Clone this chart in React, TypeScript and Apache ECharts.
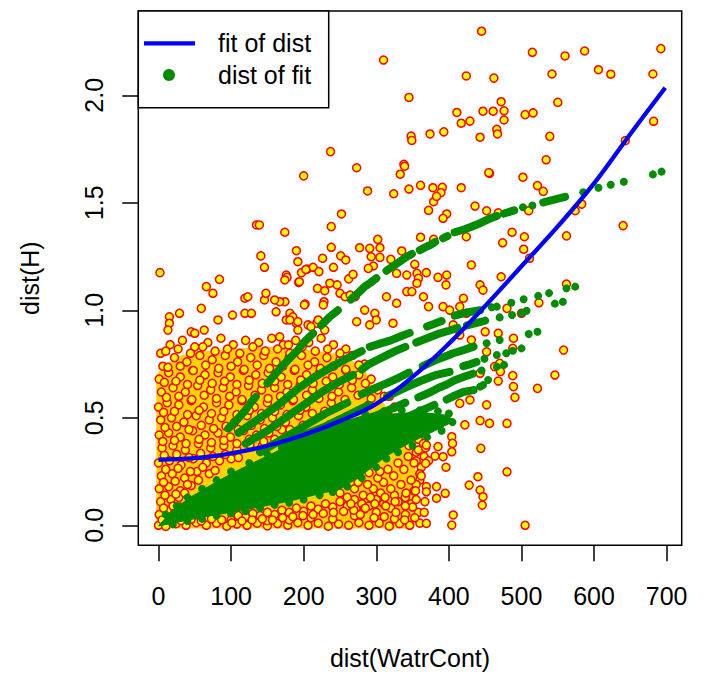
import React, { useEffect, useRef } from "react";
import * as echarts from "echarts";

const X_TICKS = [0, 100, 200, 300, 400, 500, 600, 700];
const Y_TICKS = [0, 0.5, 1, 1.5, 2];

const FIT_X = [0, 50, 100, 150, 200, 250, 300, 350, 400, 450, 500, 550, 600, 650, 698];
const FIT_Y = [0.305, 0.312, 0.335, 0.37, 0.42, 0.485, 0.565, 0.69, 0.845, 1.02, 1.205, 1.39, 1.59, 1.82, 2.035];

// dense, fully covered area of the yellow cloud
const YELLOW_DENSE_AREA = [
  [-3, -0.015], [-3, 0.7], [10, 0.75], [30, 0.79], [60, 0.81], [100, 0.82], [150, 0.83], [200, 0.82],
  [240, 0.8], [265, 0.77], [285, 0.72], [300, 0.62], [320, 0.52], [340, 0.42], [352, 0.32], [356, 0.2],
  [356, 0.06], [352, -0.015],
];

// dense, fully covered area of the green wedge
const GREEN_DENSE_AREA = [
  [0, 0.0], [20, 0.075], [45, 0.135], [80, 0.205], [110, 0.26], [150, 0.325], [180, 0.375], [222, 0.445],
  [260, 0.49], [300, 0.515], [340, 0.525], [370, 0.525], [395, 0.515], [405, 0.495], [400, 0.47],
  [370, 0.42], [340, 0.37], [314, 0.32], [280, 0.23], [250, 0.165], [222, 0.145], [180, 0.11],
  [120, 0.07], [60, 0.035], [0, -0.005],
];

const YELLOW_SPARSE = [
  [445, 2.298], [515, 2.2], [560, 2.183], [587, 2.206], [692, 2.217], [542, 2.099], [606, 2.119], [623, 2.098],
  [681, 2.099], [447, 1.926], [461, 1.926], [472, 1.97], [476, 1.928], [476, 1.885], [466, 1.842], [505, 1.91],
  [516, 1.918], [550, 1.967], [539, 1.809], [682, 1.879], [643, 1.789], [534, 1.7], [456, 1.637], [502, 1.619],
  [522, 1.58], [530, 1.553], [583, 1.494], [574, 1.463], [452, 1.463], [468, 1.453], [510, 1.463], [443, 1.805],
  [640, 1.394], [487, 1.363], [504, 1.342], [562, 1.346], [474, 1.314], [503, 1.284], [511, 1.242], [472, 1.156],
  [562, 1.122], [443, 1.118], [447, 1.094], [480, 1.009], [524, 1.035], [500, 0.986], [468, 0.893], [489, 0.87],
  [452, 0.807], [558, 0.815], [463, 0.738], [470, 0.753], [471, 0.715], [443, 0.707], [488, 0.696], [546, 0.699],
  [468, 0.671], [489, 0.645], [522, 0.637], [491, 0.595], [488, 0.823], [452, 0.56], [415, 0.567], [429, 0.583],
  [422, 0.467], [443, 0.487], [456, 0.474], [480, 0.474], [444, 0.358], [404, 0.412], [405, 0.381], [404, 0.342],
  [385, 0.366], [381, 0.322], [392, 0.319], [396, 0.27], [369, 0.373], [368, 0.288], [480, 0.249], [440, 0.226],
  [428, 0.187], [443, 0.164], [447, 0.133], [446, 0.094], [406, 0.048], [369, 0.009], [404, 0.001], [383, 0.18],
  [395, 0.149], [369, 0.156], [383, 0.126], [367, 0.11], [505, 0.0],
  [237, 1.738], [273, 1.663], [338, 1.679], [333, 1.633], [200, 1.625], [455, 1.64], [288, 1.555], [324, 1.542],
  [345, 1.564], [361, 1.581], [391, 1.572], [389, 1.547], [417, 1.57], [379, 1.505], [372, 1.465], [397, 1.448],
  [392, 1.428], [436, 1.485], [252, 1.448], [174, 1.363], [238, 1.389], [361, 1.34], [379, 1.33], [424, 1.342],
  [238, 1.293], [190, 1.277], [226, 1.242], [251, 1.253], [258, 1.234], [277, 1.291], [291, 1.288], [305, 1.291],
  [302, 1.33], [293, 1.249], [305, 1.246], [296, 1.206], [320, 1.237], [335, 1.276], [353, 1.214], [192, 1.226],
  [176, 1.164], [177, 1.153], [193, 1.13], [205, 1.192], [213, 1.2], [221, 1.18], [241, 1.2], [262, 1.146],
  [268, 1.167], [219, 1.102], [229, 1.091], [228, 1.04], [227, 1.025], [246, 1.118], [250, 1.079], [257, 1.063],
  [264, 1.071], [271, 1.063], [202, 1.029], [174, 1.04], [289, 1.195], [328, 1.172], [342, 1.164], [356, 1.172],
  [369, 1.175], [358, 1.149], [356, 1.126], [385, 1.153], [397, 1.164], [396, 1.118], [431, 1.211], [420, 1.056],
  [284, 1.001], [298, 0.986], [314, 1.063], [328, 1.033], [342, 1.087], [349, 1.087], [365, 1.063], [372, 1.017],
  [392, 1.017], [401, 1.001], [415, 1.017], [424, 0.986], [431, 0.862], [415, 0.885], [450, 0.9], [406, 0.932],
  [323, 0.94], [300, 0.955], [291, 0.932], [273, 0.947], [167, 1.04], [181, 0.986], [176, 0.955], [190, 0.94],
  [206, 0.932], [218, 0.94], [167, 0.877], [179, 0.839],
  [135, 1.397], [139, 1.397], [141, 1.253], [146, 1.2], [2, 1.175], [84, 1.144], [197, 1.175], [203, 1.19],
  [66, 1.11], [75, 1.079], [59, 1.009], [29, 0.986], [15, 0.97], [15, 0.94], [13, 0.908], [45, 0.9], [50, 0.893],
  [63, 0.908], [82, 0.955], [102, 0.978], [119, 0.986], [128, 0.986], [119, 1.056], [123, 1.063], [146, 1.048],
  [148, 1.079], [160, 1.048], [162, 0.993], [185, 0.97], [192, 0.947], [181, 0.955], [174, 1.141], [194, 1.133],
  [201, 1.025], [220, 0.955], [236, 1.126], [210, 0.924], [192, 0.908], [229, 0.908],
  [310, 2.164], [345, 1.99], [348, 1.81], [349, 1.79], [374, 1.82], [393, 1.83], [378, 1.57], [383, 1.53],
  [339, 1.67], [424, 2.09], [411, 1.92], [417, 1.87], [429, 1.88], [462, 2.08], [467, 1.82],
];

const YELLOW_CLOUD = [
  [3, 0.8], [16, 0.84], [33, 0.86], [50, 0.83], [68, 0.85], [86, 0.87], [103, 0.84], [120, 0.86], [138, 0.85],
  [156, 0.87], [172, 0.84], [189, 0.86], [207, 0.85], [224, 0.87], [241, 0.84], [258, 0.82],
  [6, 0.74], [22, 0.78], [39, 0.76], [57, 0.79], [74, 0.77], [92, 0.79], [109, 0.76], [127, 0.78], [145, 0.79],
  [162, 0.76], [180, 0.78], [197, 0.79], [215, 0.76], [232, 0.78], [250, 0.77], [267, 0.79], [284, 0.75],
  [1, 0.68], [14, 0.71], [30, 0.69], [47, 0.72], [64, 0.7], [82, 0.71], [99, 0.69], [117, 0.72], [134, 0.7],
  [151, 0.71], [169, 0.69], [187, 0.72], [204, 0.7], [222, 0.71], [240, 0.69], [258, 0.72], [276, 0.7], [293, 0.68],
  [4, 0.62], [20, 0.64], [37, 0.62], [54, 0.65], [72, 0.63], [89, 0.64], [107, 0.62], [124, 0.65], [142, 0.63],
  [160, 0.64], [177, 0.62], [195, 0.65], [212, 0.63], [248, 0.62], [266, 0.64], [302, 0.63], [318, 0.6],
  [0, 0.55], [12, 0.57], [28, 0.56], [45, 0.58], [62, 0.55], [80, 0.57], [97, 0.56], [115, 0.58], [132, 0.55],
  [150, 0.57], [168, 0.56], [185, 0.58], [203, 0.55], [238, 0.57], [290, 0.56], [325, 0.55],
  [3, 0.49], [18, 0.5], [35, 0.48], [52, 0.51], [70, 0.49], [87, 0.5], [105, 0.48], [122, 0.51], [140, 0.49],
  [157, 0.5], [175, 0.48], [193, 0.51], [333, 0.47],
  [1, 0.42], [14, 0.43], [30, 0.41], [47, 0.44], [64, 0.42], [82, 0.43], [99, 0.41], [117, 0.44], [135, 0.42],
  [152, 0.43], [170, 0.445], [345, 0.42], [358, 0.4],
  [5, 0.36], [20, 0.37], [37, 0.35], [55, 0.38], [72, 0.36], [90, 0.37], [108, 0.35], [126, 0.375], [143, 0.37],
  [355, 0.34],
  [0, 0.29], [15, 0.3], [31, 0.28], [48, 0.31], [66, 0.29], [84, 0.3], [100, 0.31], [362, 0.27],
  [4, 0.23], [19, 0.24], [36, 0.22], [53, 0.25], [70, 0.24], [360, 0.21],
  [1, 0.17], [14, 0.18], [30, 0.16], [45, 0.185], [352, 0.16],
  [3, 0.11], [17, 0.12], [28, 0.13], [300, 0.12], [325, 0.14], [348, 0.1],
  [1, 0.05], [12, 0.07], [100, 0.025], [120, 0.04], [140, 0.045], [160, 0.05], [180, 0.06], [200, 0.065],
  [220, 0.075], [240, 0.085], [260, 0.09], [280, 0.1], [300, 0.06], [320, 0.08], [340, 0.05], [358, 0.06],
  [0, 0.0], [10, -0.005], [24, 0.008], [38, 0.0], [52, 0.012], [66, 0.0], [80, 0.01], [94, -0.004], [108, 0.006],
  [122, 0.0], [136, 0.01], [150, -0.003], [164, 0.008], [178, 0.0], [192, 0.012], [206, 0.0], [220, 0.01],
  [234, -0.004], [248, 0.006], [262, 0.0], [276, 0.012], [290, 0.0], [304, 0.01], [318, -0.004], [332, 0.008],
  [346, 0.0], [360, 0.01], [240, 0.03], [270, 0.045], [210, 0.035], [180, 0.025], [150, 0.022],
];

const YELLOW_CLOUD_2 = [
  [10, 0.81], [27, 0.82], [44, 0.8], [61, 0.83], [78, 0.81], [95, 0.82], [112, 0.8], [130, 0.83], [147, 0.81],
  [164, 0.82], [181, 0.8], [198, 0.83], [216, 0.81], [233, 0.82], [250, 0.8],
  [13, 0.735], [30, 0.74], [48, 0.72], [65, 0.745], [83, 0.73], [100, 0.74], [118, 0.725], [136, 0.745],
  [153, 0.73], [171, 0.74], [188, 0.725], [206, 0.745], [223, 0.73], [241, 0.74], [258, 0.725], [276, 0.745],
  [8, 0.665], [24, 0.67], [40, 0.655], [57, 0.675], [74, 0.66], [91, 0.67], [108, 0.655], [125, 0.675],
  [143, 0.66], [160, 0.67], [178, 0.655], [196, 0.675], [213, 0.66], [231, 0.67], [249, 0.655], [267, 0.675],
  [285, 0.66],
  [11, 0.595], [28, 0.6], [46, 0.585], [63, 0.605], [80, 0.59], [98, 0.6], [115, 0.585], [133, 0.605],
  [151, 0.59], [168, 0.6], [186, 0.585], [204, 0.605], [221, 0.59], [239, 0.6], [257, 0.585], [275, 0.605],
  [293, 0.59], [311, 0.6],
  [7, 0.525], [22, 0.53], [40, 0.515], [56, 0.535], [73, 0.52], [90, 0.53], [108, 0.515], [125, 0.535],
  [142, 0.52], [160, 0.53], [177, 0.515], [195, 0.535], [212, 0.52], [229, 0.53], [300, 0.49], [320, 0.5],
  [9, 0.455], [25, 0.46], [42, 0.445], [59, 0.465], [76, 0.45], [93, 0.46], [110, 0.445], [128, 0.465],
  [146, 0.45], [163, 0.46], [181, 0.445], [199, 0.465], [330, 0.44], [350, 0.45],
  [6, 0.39], [22, 0.395], [38, 0.38], [56, 0.4], [73, 0.385], [90, 0.395], [108, 0.38], [125, 0.4],
  [145, 0.39], [160, 0.4], [345, 0.37], [365, 0.38],
  [8, 0.325], [25, 0.33], [42, 0.315], [58, 0.335], [75, 0.32], [92, 0.33], [110, 0.315], [355, 0.3],
  [10, 0.26], [27, 0.265], [44, 0.25], [61, 0.27], [78, 0.255], [360, 0.24],
  [7, 0.2], [23, 0.205], [40, 0.19], [55, 0.21], [355, 0.19],
  [9, 0.14], [24, 0.145], [36, 0.15], [340, 0.13],
  [7, 0.08], [20, 0.09], [30, 0.085], [110, 0.045], [130, 0.055], [150, 0.06], [170, 0.07], [190, 0.08],
  [210, 0.09], [230, 0.1], [250, 0.11], [270, 0.12], [290, 0.09], [310, 0.1], [330, 0.11], [350, 0.085],
  [5, 0.025], [17, 0.03], [31, 0.022], [45, 0.028], [59, 0.02], [73, 0.03], [87, 0.025], [101, 0.012],
  [115, 0.02], [129, 0.025], [143, 0.03], [157, 0.025], [171, 0.035], [185, 0.04], [199, 0.045], [213, 0.05],
  [227, 0.055], [241, 0.06], [255, 0.065], [269, 0.07], [283, 0.075], [297, 0.035], [311, 0.04], [325, 0.03],
  [339, 0.025], [353, 0.035],
  [282, 0.14], [296, 0.17], [310, 0.2], [324, 0.23], [338, 0.26], [352, 0.29], [366, 0.32],
  [288, 0.19], [302, 0.22], [316, 0.26], [330, 0.29], [344, 0.32], [358, 0.35],
  [278, 0.05], [292, 0.13], [306, 0.15], [320, 0.17], [334, 0.19], [348, 0.21], [362, 0.23],
  [285, 0.08], [313, 0.09], [327, 0.06], [341, 0.15], [355, 0.12], [369, 0.18], [372, 0.3], [368, 0.36],
  [298, 0.1], [312, 0.13], [326, 0.11], [340, 0.09], [354, 0.16], [366, 0.06],
  [260, 0.13], [250, 0.15], [270, 0.17], [265, 0.1], [275, 0.2], [290, 0.245], [305, 0.25],
];

const GREEN_EDGES = [
  [20, 0.005], [40, 0.02], [60, 0.03], [80, 0.045], [100, 0.055], [120, 0.065], [140, 0.08], [160, 0.095],
  [180, 0.105], [200, 0.12], [222, 0.14], [240, 0.155], [260, 0.18], [280, 0.22], [300, 0.27], [314, 0.31],
  [330, 0.34], [350, 0.37], [370, 0.41], [390, 0.44], [405, 0.48],
  [10, 0.05], [25, 0.09], [40, 0.13], [60, 0.17], [80, 0.21], [100, 0.25], [125, 0.29], [150, 0.33], [170, 0.36],
  [190, 0.4], [210, 0.43], [235, 0.47], [260, 0.5], [285, 0.515], [310, 0.53], [335, 0.535], [360, 0.535],
  [385, 0.53], [400, 0.52],
];

// isolated green dots at the outer ends of the fitted-distance bands
const GREEN_DOTS = [
  [459, 1.014], [466, 1.017], [486, 1.035], [503, 1.051], [523, 1.067], [538, 1.08], [562, 1.102], [574, 1.11],
  [450, 0.952], [470, 0.967], [487, 0.978], [500, 0.986], [507, 0.998], [546, 1.031], [557, 1.04],
  [452, 0.847], [470, 0.862], [510, 0.89], [522, 0.9],
  [449, 0.775], [466, 0.792], [479, 0.8], [488, 0.812], [500, 0.823],
  [445, 0.72], [466, 0.738], [476, 0.746],
  [443, 0.645], [447, 0.652], [454, 0.676],
  [502, 1.479], [515, 1.487], [585, 1.549], [606, 1.57], [623, 1.584], [641, 1.598], [681, 1.632], [693, 1.645],
];

// runs of overlapping green dots (drawn as thick round-capped strokes)
const GREEN_RUNS = [
  [[96, 0.45], [108, 0.49], [118, 0.528], [126, 0.565], [134, 0.598]],
  [[150, 0.66], [160, 0.7], [169, 0.735], [180, 0.775], [192, 0.815], [199, 0.846], [206, 0.87], [213, 0.893]],
  [[224, 0.93], [236, 0.97], [247, 1.0]],
  [[265, 1.05], [275, 1.08], [284, 1.11], [291, 1.126], [300, 1.149]],
  [[314, 1.184], [321, 1.2], [332, 1.226], [342, 1.249], [349, 1.262]],
  [[360, 1.28], [368, 1.294], [376, 1.307], [381, 1.318]],
  [[392, 1.335], [398, 1.345]],
  [[408, 1.363], [422, 1.377], [431, 1.389], [443, 1.405], [454, 1.423], [466, 1.439]],
  [[476, 1.45], [490, 1.465]],
  [[530, 1.502], [545, 1.515], [560, 1.528]],
  [[110, 0.43], [140, 0.5], [165, 0.56], [190, 0.63], [215, 0.69], [240, 0.74], [262, 0.78], [280, 0.81]],
  [[291, 0.83], [305, 0.845], [320, 0.86], [333, 0.878], [346, 0.895]],
  [[370, 0.925], [380, 0.937], [390, 0.95]],
  [[408, 0.975], [425, 0.99], [443, 1.0]],
  [[120, 0.38], [150, 0.44], [175, 0.5], [200, 0.56], [225, 0.62], [250, 0.67], [268, 0.7]],
  [[280, 0.725], [290, 0.75], [302, 0.77], [314, 0.79], [326, 0.81], [340, 0.83]],
  [[355, 0.85], [370, 0.87], [385, 0.89], [400, 0.905], [412, 0.918]],
  [[425, 0.93], [445, 0.947]],
  [[140, 0.34], [170, 0.4], [200, 0.46], [230, 0.52], [260, 0.57]],
  [[280, 0.61], [300, 0.64], [314, 0.66], [330, 0.685], [345, 0.71]],
  [[364, 0.74], [383, 0.77], [395, 0.785], [406, 0.8], [420, 0.815], [434, 0.831]],
  [[170, 0.37], [200, 0.42], [230, 0.46], [260, 0.51], [290, 0.56]],
  [[315, 0.6], [340, 0.64], [360, 0.67], [375, 0.69], [383, 0.7], [401, 0.714]],
  [[420, 0.74], [430, 0.75], [438, 0.76]],
  [[200, 0.4], [250, 0.46], [300, 0.51], [320, 0.54], [340, 0.57]],
  [[358, 0.595], [375, 0.62], [386, 0.64], [397, 0.655], [408, 0.675], [420, 0.69], [433, 0.705]],
  [[260, 0.42], [300, 0.46], [340, 0.5], [360, 0.53], [380, 0.56]],
  [[397, 0.585], [406, 0.6], [420, 0.62], [434, 0.629]],
];

const FONT = '"Liberation Sans", Arial, Helvetica, sans-serif';
const GREEN = "#008b00";

function areaSeries(points: number[][], color: string, z: number) {
  return {
    type: "custom",
    z,
    silent: true,
    clip: true,
    data: [[0, 0]],
    renderItem: (_params: any, api: any) => ({
      type: "polygon",
      shape: { points: points.map((p) => api.coord(p)) },
      style: { fill: color, stroke: "none" },
    }),
  };
}

export default function App() {
  const ref = useRef<HTMLDivElement>(null);
  useEffect(() => {
    if (!ref.current) return;
    const chart = echarts.init(ref.current, undefined, { renderer: "svg" });
    const L = 138.3, R = 681.7, T = 11, B = 545.3;
    const runSeries = GREEN_RUNS.map((run) => ({
      type: "line", z: 4, silent: true, symbol: "none", data: run,
      lineStyle: { color: GREEN, width: 8, cap: "round", join: "round" },
    }));
    const option: any = {
      animation: false,
      backgroundColor: "#ffffff",
      grid: {
        left: L, right: 706 - R, top: T, bottom: 675 - B,
        show: true, borderColor: "#000", borderWidth: 1.5, backgroundColor: "transparent",
      },
      xAxis: {
        type: "value", min: -27.8, max: 720.7,
        axisLine: { show: false, onZero: false },
        splitLine: { show: false },
        axisTick: { show: true, customValues: X_TICKS, length: 16, inside: false, lineStyle: { color: "#000", width: 1.5 } },
        axisLabel: { customValues: X_TICKS, margin: 38, fontSize: 25, fontFamily: FONT, color: "#000" },
      },
      yAxis: {
        type: "value", min: -0.093, max: 2.392,
        axisLine: { show: false, onZero: false },
        splitLine: { show: false },
        axisTick: { show: true, customValues: Y_TICKS, length: 16, inside: false, lineStyle: { color: "#000", width: 1.5 } },
        axisLabel: {
          customValues: Y_TICKS, margin: 32, rotate: 90, fontSize: 25, fontFamily: FONT, color: "#000",
          formatter: (v: number) => v.toFixed(1),
        },
      },
      series: [
        areaSeries(YELLOW_DENSE_AREA, "#ffd200", 1),
        {
          type: "scatter", z: 2, silent: true, symbol: "circle", symbolSize: 8,
          data: [...YELLOW_CLOUD, ...YELLOW_CLOUD_2, ...YELLOW_SPARSE],
          itemStyle: { color: "#ffff00", borderColor: "#ff0000", borderWidth: 1.5, opacity: 1 },
        },
        areaSeries(GREEN_DENSE_AREA, GREEN, 3),
        {
          type: "scatter", z: 4, silent: true, symbol: "circle", symbolSize: 8,
          data: [...GREEN_EDGES, ...GREEN_DOTS],
          itemStyle: { color: GREEN, opacity: 1 },
        },
        ...runSeries,
        {
          type: "line", z: 5, silent: true, symbol: "none", smooth: 0.4,
          data: FIT_X.map((x, i) => [x, FIT_Y[i]]),
          lineStyle: { color: "#0000ff", width: 4.3 },
        },
      ],
      graphic: [
        { type: "rect", z: 100, shape: { x: L, y: T, width: 190.4, height: 96.7 }, style: { fill: "#fff", stroke: "#000", lineWidth: 1.5 } },
        { type: "line", z: 101, shape: { x1: 144, y1: 43.3, x2: 195, y2: 43.3 }, style: { stroke: "#0000ff", lineWidth: 4.3 } },
        { type: "circle", z: 101, shape: { cx: 169, cy: 75, r: 6 }, style: { fill: GREEN } },
        { type: "text", z: 101, x: 218, y: 43.3, style: { text: "fit of dist", fontSize: 25, fontFamily: FONT, fill: "#000", align: "left", verticalAlign: "middle" } },
        { type: "text", z: 101, x: 218, y: 75, style: { text: "dist of fit", fontSize: 25, fontFamily: FONT, fill: "#000", align: "left", verticalAlign: "middle" } },
        { type: "text", z: 101, x: (L + R) / 2, y: 658, style: { text: "dist(WatrCont)", fontSize: 25, fontFamily: FONT, fill: "#000", align: "center", verticalAlign: "middle" } },
        { type: "text", z: 101, x: 30, y: (T + B) / 2, rotation: Math.PI / 2, style: { text: "dist(H)", fontSize: 25, fontFamily: FONT, fill: "#000", align: "center", verticalAlign: "middle" } },
      ],
    };
    chart.setOption(option);
    return () => chart.dispose();
  }, []);
  return <div ref={ref} style={{ position: "absolute", left: 0, top: 0, width: 706, height: 675, background: "#fff" }} />;
}
